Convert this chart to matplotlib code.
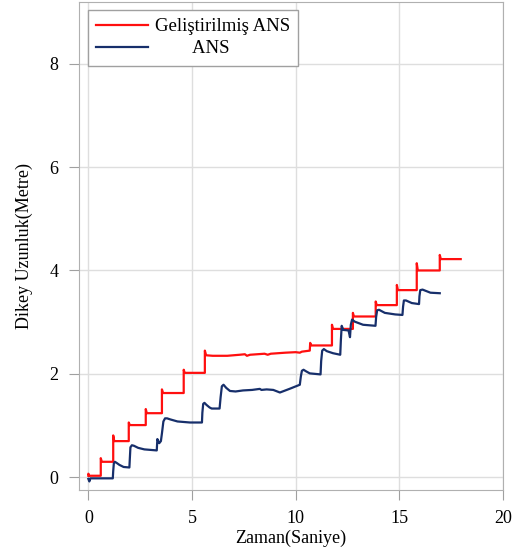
import matplotlib.pyplot as plt

# Geliştirilmiş ANS (red)
red_t = [0.0, 0.0, 0.05, 0.6, 0.6, 0.65, 1.2, 1.2, 1.25, 1.95, 1.95, 2.0,
         2.77, 2.77, 2.82, 3.55, 3.55, 3.6, 4.6, 4.6, 4.65, 5.62, 5.62, 5.68,
         6.0, 6.7, 7.3, 7.55, 7.65, 7.8, 8.5, 8.65, 8.8, 9.5, 10.0, 10.2, 10.3,
         10.68, 10.7, 10.75, 11.75, 11.75, 11.8, 12.76, 12.76, 12.81,
         13.86, 13.86, 13.91, 14.88, 14.88, 14.93, 15.84, 15.84, 15.89,
         16.95, 16.95, 17.0, 17.96]
red_h = [0.03, 0.07, 0.03, 0.03, 0.37, 0.30, 0.30, 0.81, 0.70, 0.70, 1.06, 1.01,
         1.01, 1.32, 1.24, 1.24, 1.70, 1.63, 1.63, 2.08, 2.02, 2.02, 2.45, 2.36,
         2.35, 2.35, 2.37, 2.38, 2.35, 2.37, 2.39, 2.37, 2.39, 2.41, 2.42, 2.41, 2.43,
         2.45, 2.60, 2.55, 2.55, 2.95, 2.87, 2.87, 3.18, 3.11,
         3.11, 3.40, 3.33, 3.33, 3.72, 3.62, 3.62, 4.14, 4.00,
         4.00, 4.30, 4.22, 4.22]

# ANS (navy)
blue_t = [0.0, 0.05, 0.1, 1.18, 1.2, 1.23, 1.28, 1.36, 1.5, 1.7, 1.98,
          2.0, 2.03, 2.1, 2.2, 2.4, 2.7, 3.0, 3.3, 3.33, 3.42, 3.5,
          3.55, 3.62, 3.7, 3.8, 3.95, 4.3, 4.9, 5.48,
          5.5, 5.54, 5.6, 5.7, 5.85, 5.95, 6.33, 6.38, 6.44, 6.52, 6.65, 6.83,
          7.1, 7.46, 7.9, 8.27, 8.35, 8.6, 8.92, 9.24, 9.7, 10.2,
          10.25, 10.3, 10.38, 10.5, 10.68, 11.2, 11.23, 11.28, 11.36, 11.5,
          11.8, 12.15, 12.18, 12.22, 12.3, 12.55, 12.62, 12.66, 12.72, 12.85,
          13.25, 13.85, 13.88, 13.93, 14.02, 14.3, 14.8, 15.15, 15.18, 15.22,
          15.32, 15.6, 15.95, 15.97, 16.01, 16.12, 16.5, 16.95]
blue_h = [-0.03, -0.08, -0.02, -0.02, 0.12, 0.27, 0.30, 0.28, 0.24, 0.20, 0.19,
          0.35, 0.58, 0.62, 0.61, 0.57, 0.54, 0.53, 0.52, 0.74, 0.66, 0.70,
          0.85, 1.08, 1.14, 1.14, 1.12, 1.08, 1.06, 1.06,
          1.25, 1.42, 1.44, 1.40, 1.35, 1.33, 1.33, 1.55, 1.76, 1.79, 1.73, 1.67,
          1.66, 1.68, 1.69, 1.71, 1.69, 1.70, 1.69, 1.64, 1.71, 1.79,
          1.95, 2.06, 2.08, 2.05, 2.01, 1.99, 2.25, 2.45, 2.48, 2.44,
          2.40, 2.37, 2.65, 2.93, 2.85, 2.84, 2.71, 2.95, 3.05, 3.01,
          2.95, 2.93, 3.10, 3.23, 3.24, 3.18, 3.15, 3.14, 3.30, 3.42,
          3.42, 3.37, 3.35, 3.50, 3.62, 3.63, 3.57, 3.56]

x_ticks = [0, 5, 10, 15, 20]
y_ticks = [0, 2, 4, 6, 8]

plt.rcParams['font.family'] = ['Liberation Serif', 'DejaVu Serif']

fig = plt.figure(figsize=(5.32, 5.52), dpi=100)
ax = fig.add_axes([0.1485, 0.1132, 0.797, 0.883])

ax.plot(red_t, red_h, color='#ff0f0f', lw=1.6, label='Geliştirilmiş ANS')
ax.plot(blue_t, blue_h, color='#172f6b', lw=1.6, label='        ANS')

ax.set_xlim(-0.45, 20)
ax.set_ylim(-0.236, 9.19)
ax.set_xticks(x_ticks)
ax.set_yticks(y_ticks)
ax.grid(True, color='#dedede', lw=1)
ax.set_axisbelow(True)
for s in ax.spines.values():
    s.set_color('#b0b0b0')
ax.tick_params(direction='out', length=7, color='#a0a0a0', labelsize=13, pad=8)

ax.set_xlabel('Zaman(Saniye)', fontsize=13, labelpad=2)
ax.set_ylabel('Dikey Uzunluk(Metre)', fontsize=13, labelpad=12)

leg = ax.legend(loc='upper left', bbox_to_anchor=(0.021, 0.984), fontsize=13,
                handlelength=2.9, labelspacing=0.3, fancybox=False,
                framealpha=1, borderpad=0.45, borderaxespad=0,
                handletextpad=0.35)
leg.get_frame().set_edgecolor('#a0a0a0')
leg.get_frame().set_linewidth(1)
# a little more room left of the handles, like the reference box
leg._legend_box.sep = 0
for txt in leg.get_texts():
    txt.set_fontsize(13.5)

fig.savefig('out.png', dpi=100)
